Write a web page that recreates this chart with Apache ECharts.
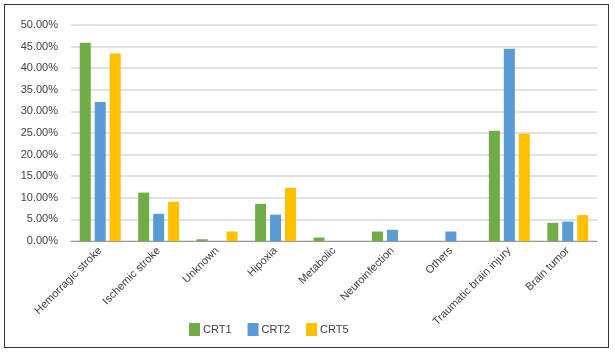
<!DOCTYPE html>
<html>
<head>
<meta charset="utf-8">
<script src="https://cdn.jsdelivr.net/npm/echarts@6/dist/echarts.min.js"></script>
<style>
  html, body { margin: 0; padding: 0; background: #fff; }
  #frame { position: absolute; left: 4px; top: 4px; width: 603px; height: 342px; border: 1.5px solid #333; }
  #chart { position: absolute; left: 0; top: 0; width: 615px; height: 355px; }
</style>
</head>
<body>
<div id="frame"></div>
<div id="chart"></div>
<script>
const categories = ['Hemorragic stroke', 'Ischemic stroke', 'Unknown', 'Hipoxia', 'Metabolic',
  'Neuroinfection', 'Others', 'Traumatic brain injury', 'Brain tumor'];
const crt1 = [45.9, 11.2, 0.4, 8.6, 0.8, 2.2, 0, 25.5, 4.2];
const crt2 = [32.2, 6.3, 0, 6.1, 0, 2.6, 2.2, 44.5, 4.5];
const crt5 = [43.4, 9.1, 2.2, 12.3, 0, 0, 0, 24.8, 6.0];

const chart = echarts.init(document.getElementById('chart'), null, { renderer: 'canvas' });
const font = 'Liberation Sans, Arial, sans-serif';
const bar = (name, data, color) => ({
  name, type: 'bar', data, barWidth: 11, barGap: '36%',
  itemStyle: { color }
});

chart.setOption({
  animation: false,
  textStyle: { fontFamily: font },
  grid: { left: 71, right: 18, top: 25, bottom: 114, containLabel: false },
  legend: {
    top: 318, left: 184,
    itemWidth: 11, itemHeight: 13, itemGap: 16,
    icon: 'rect',
    textStyle: { color: '#404040', fontSize: 11, fontFamily: font, padding: [0, 0, 0, -2] },
    data: ['CRT1', 'CRT2', 'CRT5']
  },
  xAxis: {
    type: 'category',
    data: categories,
    axisLine: { lineStyle: { color: '#999', width: 1 } },
    axisTick: { show: false },
    axisLabel: { rotate: 45, color: '#404040', fontSize: 11, fontFamily: font, margin: 8, interval: 0 }
  },
  yAxis: {
    type: 'value', min: 0, max: 50, interval: 5,
    axisLine: { show: false },
    axisTick: { show: false },
    splitLine: { lineStyle: { color: '#d9d9d9', width: 1.5 } },
    axisLabel: { color: '#404040', fontSize: 11, fontFamily: font, margin: 13,
      formatter: v => v.toFixed(2) + '%' }
  },
  series: [
    bar('CRT1', crt1, '#70AD47'),
    bar('CRT2', crt2, '#5B9BD5'),
    bar('CRT5', crt5, '#FFC000')
  ]
});
</script>
</body>
</html>
